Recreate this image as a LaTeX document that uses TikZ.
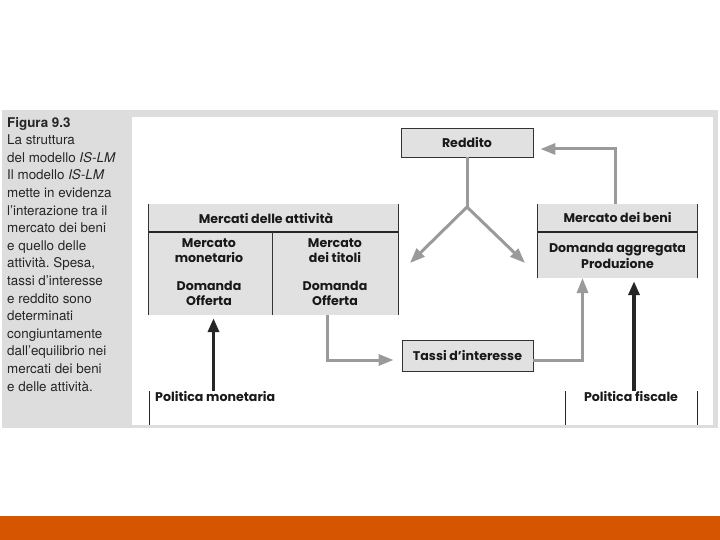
\documentclass[tikz,border=0pt]{standalone}
\usepackage{fontspec}
\setmainfont{TeX Gyre Heros}
\newfontfamily\diagfont{Poppins}
\usetikzlibrary{positioning,arrows.meta}

\definecolor{panelgrey}{HTML}{DDDDDD}
\definecolor{boxgrey}{HTML}{E1E1E1}
\definecolor{arrowgrey}{HTML}{9A9A9A}
\definecolor{barorange}{HTML}{D55500}

\frenchspacing

\begin{document}
\begin{tikzpicture}[
			x=1pt, y=-1pt,
			every node/.style={
				inner sep=0pt,
				align=center,
				text=black!90,
				font=\diagfont\bfseries\fontsize{12.6}{15.5}\selectfont
			},
			box/.style={draw=black!80, fill=boxgrey, line width=0.8pt},
			group/.style={fill=boxgrey},
			flow/.style={draw=arrowgrey, line width=3pt,
				-{Triangle[length=15pt,width=11pt]}},
			policy/.style={draw=black!85, line width=3.5pt,
				-{Triangle[length=14pt,width=11pt]}},
			caption/.style={anchor=north west, align=left, text=black!85,
				font=\fontsize{13.4}{17.6}\selectfont}
			]
			
			\useasboundingbox (0,0) rectangle (720,540);
			
			%--------------------------------------------------
			% Page
			%--------------------------------------------------
			
			\fill[panelgrey] (2,110) rectangle (718,428);
			\fill[white] (132,117) rectangle (713,425);
			\fill[barorange] (0,516) rectangle (720,540);
			
			\node[caption] (caption) at (7,117) {%
				\textbf{Figura 9.3}\\
				La struttura\\
				del modello \textit{IS-LM}\\
				Il modello \textit{IS-LM}\\
				mette in evidenza\\
				l'interazione tra il\\
				mercato dei beni\\
				e quello delle\\
				attività. Spesa,\\
				tassi d'interesse\\
				e reddito sono\\
				determinati\\
				congiuntamente\\
				dall'equilibrio nei\\
				mercati dei beni\\
				e delle attività.};
			
			%--------------------------------------------------
			% Boxes
			%--------------------------------------------------
			
			\node[box, minimum width=132pt, minimum height=29pt] (reddito) at (467,142.5) {Reddito};
			
			\node[box, minimum width=131pt, minimum height=31pt] (tassi) at (467.5,355.5) {Tassi d’interesse};
			
			% Mercati delle attivita
			\node[group, minimum width=249pt, minimum height=111pt] (attivita) at (273.5,259.5) {};
			\draw[black!80, line width=0.8pt] (attivita.north west) -- (attivita.south west);
			\draw[black!80, line width=0.8pt] (attivita.north east) -- (attivita.south east);
			\draw[black!85, line width=1.2pt] (149,232) -- (398,232);
			\draw[black!80, line width=0.8pt] (272,232) -- (attivita.south -| 272,0);
			
			\node (attivitahead) at (266,218) {Mercati delle attività};
			\node (monetario) at (209,250.5) {Mercato\\monetario};
			\node (monetariodo) at (209,293.5) {Domanda\\Offerta};
			\node (titoli) at (335,250.5) {Mercato\\dei titoli};
			\node (titolido) at (335,293.5) {Domanda\\Offerta};
			
			% Mercato dei beni
			\node[group, minimum width=159pt, minimum height=74pt] (beni) at (617.5,241) {};
			\draw[black!80, line width=0.8pt] (beni.north west) -- (beni.south west);
			\draw[black!80, line width=0.8pt] (beni.north east) -- (beni.south east);
			\draw[black!85, line width=1.2pt] (538,232) -- (697,232);
			
			\node (benihead) at (617.5,218) {Mercato dei beni};
			\node (beniprod) at (617.5,256) {Domanda aggregata\\Produzione};
			
			%--------------------------------------------------
			% Policies
			%--------------------------------------------------
			
			\node[anchor=west] (monetaria) at (155,397) {Politica monetaria};
			\draw[black!85, line width=0.8pt] (149,391) -- (149,425);
			
			\node (fiscale) at (631,397) {Politica fiscale};
			\draw[black!85, line width=0.8pt] (565,391) -- (565,425);
			\draw[black!85, line width=0.8pt] (697.5,391) -- (697.5,425);
			
			%--------------------------------------------------
			% Flow
			%--------------------------------------------------
			
			\coordinate (split) at (467,207);
			\coordinate (tipleft) at (410,263);
			\coordinate (tipright) at (525,263);
			\coordinate (titolibase) at (327.5,315);
			\coordinate (benifoot) at (582.5,278);
			\coordinate (monbase) at (213.5,391);
			\coordinate (fisbase) at (634,391);
			
			\draw[flow, -] (reddito.south) -- (split);
			\draw[flow] (split) -- (tipleft);
			\draw[flow] (split) -- (tipright);
			
			\draw[flow, shorten >=7pt] (beni.north -| 615.5,0) |- ([yshift=-6.5pt]reddito.east);
			
			\draw[flow, shorten >=8pt] (titolibase) |- ([yshift=-4.5pt]tassi.west);
			
			\draw[flow] ([yshift=-4.5pt]tassi.east) -| (benifoot);
			
			\draw[policy, shorten >=3pt] (monbase) -- (monbase |- attivita.south);
			
			\draw[policy, shorten >=3pt] (fisbase) -- (fisbase |- beni.south);
			
		\end{tikzpicture}
\end{document}
